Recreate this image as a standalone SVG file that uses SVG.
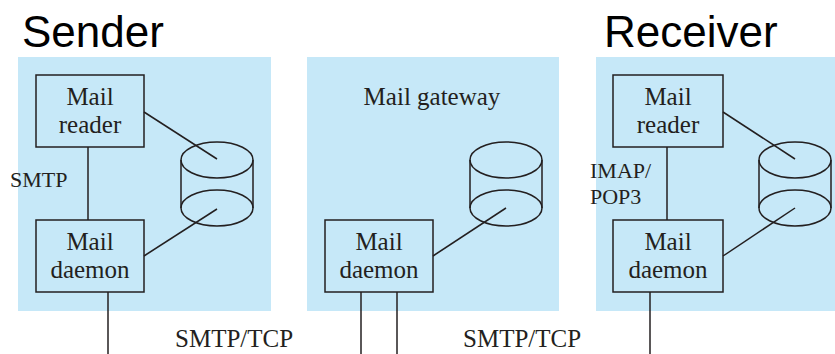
<svg xmlns="http://www.w3.org/2000/svg" width="835" height="354" viewBox="0 0 835 354">
  <style>
    .panel { fill: #c6e8f8; stroke: none; }
    .box { fill: #c6e8f8; stroke: #231f20; stroke-width: 1.5; }
    .line { stroke: #231f20; stroke-width: 1.5; fill: none; }
    .disk { fill: none; stroke: #231f20; stroke-width: 1.5; }
    .lbl { font-family: "Liberation Serif", "Times New Roman", serif; font-size: 25px; fill: #231f20; }
    .lbl-c { text-anchor: middle; }
    .proto { font-family: "Liberation Serif", "Times New Roman", serif; font-size: 22px; fill: #231f20; }
    .title { font-family: "Liberation Sans", Arial, sans-serif; font-size: 44px; fill: #000; }
  </style>
  <defs>
    <!-- mail store: cylinder drawn with a top and a dividing ellipse -->
    <g id="store">
      <ellipse class="disk" cx="0" cy="0" rx="36" ry="18"/>
      <ellipse class="disk" cx="0" cy="48" rx="36" ry="18"/>
      <line class="disk" x1="-36" y1="0" x2="-36" y2="48"/>
      <line class="disk" x1="36" y1="0" x2="36" y2="48"/>
    </g>
  </defs>

  <rect width="835" height="354" fill="#ffffff"/>

  <!-- host panels -->
  <g id="sender">
    <rect class="panel" x="18" y="57" width="253" height="254"/>
    <text class="title" x="22" y="47">Sender</text>
  </g>
  <g id="gateway">
    <rect class="panel" x="307" y="57" width="252" height="254"/>
    <text class="lbl lbl-c" x="432" y="105">Mail gateway</text>
  </g>
  <g id="receiver">
    <rect class="panel" x="596" y="57" width="239" height="254"/>
    <text class="title" x="604" y="47">Receiver</text>
  </g>

  <!-- connectors -->
  <g id="connectors">
    <!-- sender -->
    <line class="line" x1="88" y1="147" x2="88" y2="220"/>
    <line class="line" x1="108" y1="292" x2="108" y2="354"/>
    <!-- gateway -->
    <line class="line" x1="361" y1="292" x2="361" y2="354"/>
    <line class="line" x1="397" y1="292" x2="397" y2="354"/>
    <!-- receiver -->
    <line class="line" x1="667" y1="147" x2="667" y2="220"/>
    <line class="line" x1="650" y1="292" x2="650" y2="354"/>
  </g>

  <!-- sender nodes -->
  <g id="sender-reader">
    <rect class="box" x="36" y="75" width="108" height="72"/>
    <text class="lbl lbl-c" x="90" y="105">Mail</text>
    <text class="lbl lbl-c" x="90" y="133">reader</text>
  </g>
  <g id="sender-daemon">
    <rect class="box" x="36" y="220" width="108" height="72"/>
    <text class="lbl lbl-c" x="90" y="250">Mail</text>
    <text class="lbl lbl-c" x="90" y="278">daemon</text>
  </g>
  <g id="sender-store">
    <use href="#store" x="217" y="160"/>
  </g>

  <!-- gateway nodes -->
  <g id="gateway-daemon">
    <rect class="box" x="325" y="220" width="108" height="72"/>
    <text class="lbl lbl-c" x="379" y="250">Mail</text>
    <text class="lbl lbl-c" x="379" y="278">daemon</text>
  </g>
  <g id="gateway-store">
    <use href="#store" x="506" y="160"/>
  </g>

  <!-- receiver nodes -->
  <g id="receiver-reader">
    <rect class="box" x="613" y="75" width="110" height="72"/>
    <text class="lbl lbl-c" x="668" y="105">Mail</text>
    <text class="lbl lbl-c" x="668" y="133">reader</text>
  </g>
  <g id="receiver-daemon">
    <rect class="box" x="613" y="220" width="110" height="72"/>
    <text class="lbl lbl-c" x="668" y="250">Mail</text>
    <text class="lbl lbl-c" x="668" y="278">daemon</text>
  </g>
  <g id="receiver-store">
    <use href="#store" x="795" y="160"/>
  </g>

  <!-- links into the mail stores -->
  <g id="store-links">
    <line class="line" x1="144" y1="112" x2="217" y2="159"/>
    <line class="line" x1="144" y1="256" x2="217" y2="209"/>
    <line class="line" x1="433" y1="256" x2="506" y2="208"/>
    <line class="line" x1="723" y1="112" x2="795" y2="159"/>
    <line class="line" x1="723" y1="256" x2="795" y2="208"/>
  </g>

  <!-- protocol labels -->
  <g id="labels">
    <text class="proto" x="10" y="187">SMTP</text>
    <text class="proto" x="590" y="178">IMAP/</text>
    <text class="proto" x="590" y="204">POP3</text>
    <text class="lbl" x="175" y="347">SMTP/TCP</text>
    <text class="lbl" x="463" y="347">SMTP/TCP</text>
  </g>
</svg>
